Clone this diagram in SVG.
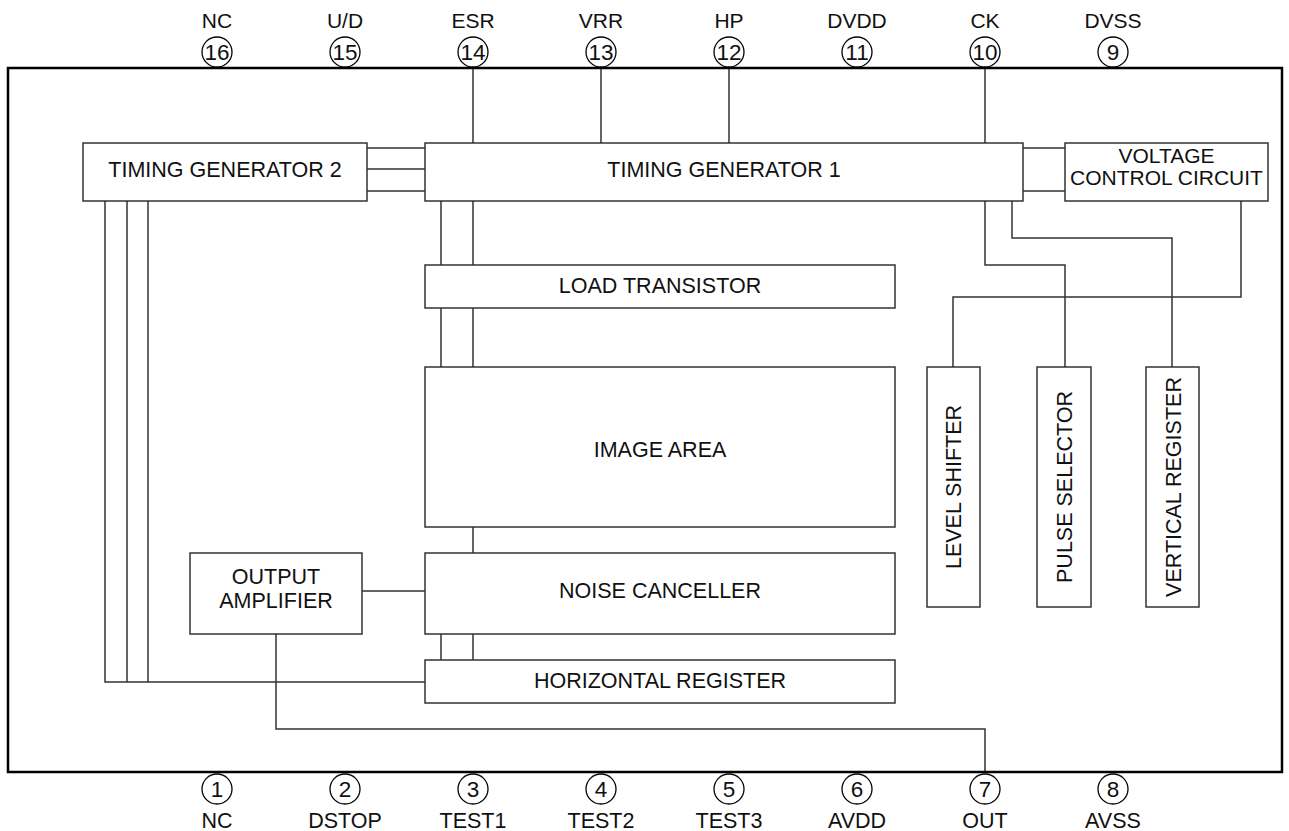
<svg xmlns="http://www.w3.org/2000/svg" width="1289" height="831" viewBox="0 0 1289 831">
<style>
.box{fill:#fff;stroke:#333;stroke-width:1.5}
.ln{fill:none;stroke:#333;stroke-width:1.5}
.frame{fill:none;stroke:#000;stroke-width:2.5}
.pin{fill:#fff;stroke:#000;stroke-width:1.3}
text{font-family:"Liberation Sans",Arial,sans-serif;fill:#111;text-anchor:middle}
.t{font-size:21.5px}
.tv{font-size:21px}
.tl{font-size:21px}
.bl{font-size:21.5px}
.num{font-size:22.5px}
</style>
<rect width="1289" height="831" fill="#fff"/>
<g id="connectors">
<path class="ln" d="M473 68V143M601 68V143M729 68V143M985 68V143"/>
<path class="ln" d="M367 148H425M367 169H425M367 191H425"/>
<path class="ln" d="M1023 148H1065M1023 191H1065"/>
<path class="ln" d="M105 201V682H425M127 201V682M148 201V682"/>
<path class="ln" d="M441 201V265M473 201V265M441 308V367M473 308V367"/>
<path class="ln" d="M473 527V553M362 591H425M441 634V660M473 634V660"/>
<path class="ln" d="M276 634V729H985V772"/>
<path class="ln" d="M985 201V265H1065V367"/>
<path class="ln" d="M1012 201V238H1172V367"/>
<path class="ln" d="M1241 201V297H953V367"/>
</g>
<g id="frame">
<rect class="frame" x="8" y="68" width="1274" height="704"/>
</g>
<g id="pins-top">
<g id="pin16"><circle class="pin" cx="217" cy="52" r="15"/><text class="num" x="217" y="60">16</text><text class="tl" x="217" y="28">NC</text></g>
<g id="pin15"><circle class="pin" cx="345" cy="52" r="15"/><text class="num" x="345" y="60">15</text><text class="tl" x="345" y="28">U/D</text></g>
<g id="pin14"><circle class="pin" cx="473" cy="52" r="15"/><text class="num" x="473" y="60">14</text><text class="tl" x="473" y="28">ESR</text></g>
<g id="pin13"><circle class="pin" cx="601" cy="52" r="15"/><text class="num" x="601" y="60">13</text><text class="tl" x="601" y="28">VRR</text></g>
<g id="pin12"><circle class="pin" cx="729" cy="52" r="15"/><text class="num" x="729" y="60">12</text><text class="tl" x="729" y="28">HP</text></g>
<g id="pin11"><circle class="pin" cx="857" cy="52" r="15"/><text class="num" x="857" y="60">11</text><text class="tl" x="857" y="28">DVDD</text></g>
<g id="pin10"><circle class="pin" cx="985" cy="52" r="15"/><text class="num" x="985" y="60">10</text><text class="tl" x="985" y="28">CK</text></g>
<g id="pin9"><circle class="pin" cx="1113" cy="52" r="15"/><text class="num" x="1113" y="60">9</text><text class="tl" x="1113" y="28">DVSS</text></g>
</g>
<g id="pins-bottom">
<g id="pin1"><circle class="pin" cx="217" cy="789" r="15"/><text class="num" x="217" y="797">1</text><text class="bl" x="217" y="828">NC</text></g>
<g id="pin2"><circle class="pin" cx="345" cy="789" r="15"/><text class="num" x="345" y="797">2</text><text class="bl" x="345" y="828">DSTOP</text></g>
<g id="pin3"><circle class="pin" cx="473" cy="789" r="15"/><text class="num" x="473" y="797">3</text><text class="bl" x="473" y="828">TEST1</text></g>
<g id="pin4"><circle class="pin" cx="601" cy="789" r="15"/><text class="num" x="601" y="797">4</text><text class="bl" x="601" y="828">TEST2</text></g>
<g id="pin5"><circle class="pin" cx="729" cy="789" r="15"/><text class="num" x="729" y="797">5</text><text class="bl" x="729" y="828">TEST3</text></g>
<g id="pin6"><circle class="pin" cx="857" cy="789" r="15"/><text class="num" x="857" y="797">6</text><text class="bl" x="857" y="828">AVDD</text></g>
<g id="pin7"><circle class="pin" cx="985" cy="789" r="15"/><text class="num" x="985" y="797">7</text><text class="bl" x="985" y="828">OUT</text></g>
<g id="pin8"><circle class="pin" cx="1113" cy="789" r="15"/><text class="num" x="1113" y="797">8</text><text class="bl" x="1113" y="828">AVSS</text></g>
</g>
<g id="tg2"><rect class="box" x="83" y="143" width="284" height="58"/><text class="t" x="225" y="177">TIMING GENERATOR 2</text></g>
<g id="tg1"><rect class="box" x="425" y="143" width="598" height="58"/><text class="t" x="724" y="177">TIMING GENERATOR 1</text></g>
<g id="vcc"><rect class="box" x="1065" y="143" width="203" height="58"/><text class="tv" x="1166.5" y="163">VOLTAGE</text><text class="tv" x="1166.5" y="185">CONTROL CIRCUIT</text></g>
<g id="load"><rect class="box" x="425" y="265" width="470" height="43"/><text class="t" x="660" y="293">LOAD TRANSISTOR</text></g>
<g id="image"><rect class="box" x="425" y="367" width="470" height="160"/><text class="t" x="660" y="457">IMAGE AREA</text></g>
<g id="outamp"><rect class="box" x="190" y="553" width="172" height="81"/><text class="t" x="276" y="584">OUTPUT</text><text class="t" x="276" y="608">AMPLIFIER</text></g>
<g id="noise"><rect class="box" x="425" y="553" width="470" height="81"/><text class="t" x="660" y="598">NOISE CANCELLER</text></g>
<g id="hreg"><rect class="box" x="425" y="660" width="470" height="43"/><text class="t" x="660" y="688">HORIZONTAL REGISTER</text></g>
<g id="lshift"><rect class="box" x="927" y="367" width="53" height="240"/><text class="t" transform="translate(961 487) rotate(-90)">LEVEL SHIFTER</text></g>
<g id="psel"><rect class="box" x="1037" y="367" width="54" height="240"/><text class="t" transform="translate(1072 487) rotate(-90)">PULSE SELECTOR</text></g>
<g id="vreg"><rect class="box" x="1146" y="367" width="53" height="240"/><text class="t" transform="translate(1180.5 487) rotate(-90)">VERTICAL REGISTER</text></g>
</svg>
